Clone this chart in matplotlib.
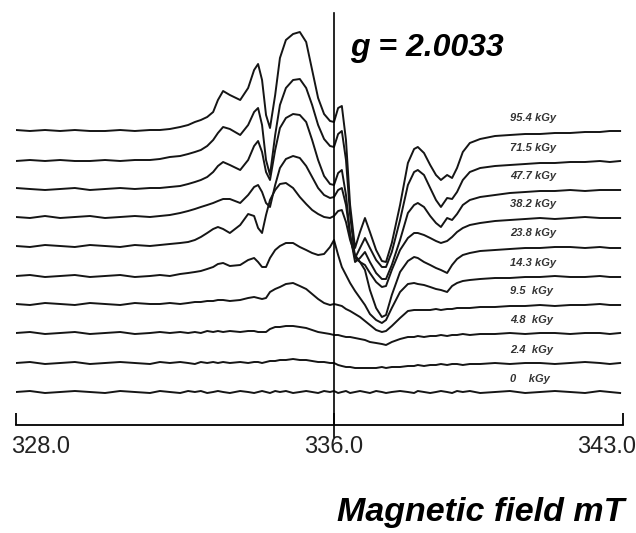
import numpy as np
import matplotlib
matplotlib.use('Agg')
import matplotlib.pyplot as plt
from matplotlib.transforms import ScaledTranslation

plt.rcParams['font.family'] = ['Liberation Sans', 'DejaVu Sans']

# magnetic field (mT), shared by all spectra
field = [328.00, 328.35, 328.73, 329.11, 329.48, 329.86, 330.24, 330.62, 330.99, 331.37,
         331.62, 331.87, 332.13, 332.33, 332.50, 332.65, 332.81, 332.96, 333.08, 333.21,
         333.38, 333.64, 333.84, 333.99, 334.09, 334.19, 334.29, 334.39, 334.52, 334.64,
         334.79, 334.97, 335.14, 335.30, 335.45, 335.60, 335.75, 335.90, 336.00, 336.10,
         336.19, 336.29, 336.39, 336.51, 336.63, 336.75, 336.87, 337.02, 337.16, 337.26,
         337.40, 337.60, 337.79, 337.94, 338.03, 338.18, 338.33, 338.47, 338.59, 338.74,
         338.86, 338.98, 339.12, 339.29, 339.54, 339.90, 340.26, 340.63, 340.99, 341.35,
         341.72, 342.08, 342.44, 342.68, 342.93]

# EPR signal (a.u.) for each dose
sig_95_4 = [1, 0, 1, 0, 1, 0, 0, 1, 0, 1,
            1, 2, 4, 6, 9, 11, 14, 19, 31, 40,
            36, 31, 43, 61, 67, 51, 16, 3, 36, 73,
            91, 97, 99, 89, 61, 33, 17, 10, 9, 23,
            25, -9, -74, -117, -101, -87, -101, -119, -130, -131,
            -112, -74, -32, -18, -16, -22, -34, -44, -49, -44,
            -47, -37, -21, -12, -8, -5, -4, -3, -3, -2,
            -2, -1, -1, 0, 0]
sig_71_5 = [0, 1, 0, 1, 0, 0, 1, 0, 1, 1,
            2, 4, 5, 7, 9, 11, 15, 21, 28, 34,
            32, 26, 36, 49, 53, 36, 1, -14, 26, 56,
            73, 81, 82, 73, 56, 36, 22, 15, 14, 27,
            30, 1, -54, -97, -87, -77, -87, -99, -106, -106,
            -91, -59, -24, -11, -9, -14, -27, -39, -46, -37,
            -38, -31, -19, -11, -7, -5, -4, -3, -2, -2,
            -1, -1, 0, -1, 0]
sig_47_7 = [1, 0, -1, 0, 1, -1, 0, 1, 0, 1,
            1, 2, 3, 5, 7, 9, 12, 17, 23, 27,
            24, 19, 29, 43, 48, 37, 17, 9, 39, 61,
            71, 75, 74, 67, 49, 29, 13, 5, 4, 16,
            19, -6, -46, -73, -69, -63, -73, -84, -90, -90,
            -76, -51, -24, -16, -14, -18, -27, -34, -38, -29,
            -31, -25, -16, -11, -8, -6, -4, -3, -2, -2,
            -1, -2, -1, -1, -1]
sig_38_2 = [0, -1, 1, -1, 0, 1, -1, 0, 1, 0,
            1, 2, 4, 6, 8, 10, 12, 14, 16, 18,
            18, 14, 22, 30, 32, 25, 14, 10, 32, 49,
            58, 61, 59, 51, 40, 29, 22, 19, 20, 27,
            29, 12, -18, -41, -45, -48, -56, -65, -70, -69,
            -53, -33, -21, -16, -16, -18, -21, -24, -26, -24,
            -20, -15, -11, -8, -6, -4, -3, -2, -1, -2,
            -1, 0, -1, -1, -1]
sig_23_8 = [0, -1, 1, 0, -1, 1, 0, -1, 1, 0,
            1, 2, 3, 4, 6, 9, 13, 17, 19, 17,
            13, 21, 32, 30, 18, 13, 31, 46, 56, 62,
            63, 58, 49, 42, 36, 32, 29, 28, 30, 35,
            36, 24, 6, -9, -16, -24, -44, -62, -71, -69,
            -49, -26, -15, -11, -12, -16, -19, -22, -24, -27,
            -19, -13, -9, -7, -5, -4, -3, -2, -2, -1,
            -1, -2, -1, -2, -2]
sig_14_3 = [0, 1, -1, 0, 1, -1, 0, 1, -1, 0,
            1, 0, 2, 3, 4, 5, 7, 9, 12, 13,
            10, 11, 16, 18, 14, 9, 9, 18, 26, 30,
            33, 33, 29, 26, 23, 21, 22, 29, 36, 21,
            9, 1, -7, -15, -22, -29, -38, -44, -47, -44,
            -32, -16, -8, -7, -8, -9, -11, -13, -14, -16,
            -10, -7, -5, -4, -3, -2, -2, -1, -1, 0,
            -1, -1, 0, -1, -1]
sig_9_5 = [0, -1, 1, 0, -1, 1, 0, -1, 1, 0,
           0, 1, 0, 1, 2, 2, 3, 3, 4, 4,
           3, 4, 6, 7, 6, 5, 6, 12, 15, 17,
           20, 21, 18, 15, 10, 5, 1, -1, 0, -1,
           -2, -5, -7, -10, -13, -17, -21, -26, -28, -27,
           -22, -14, -7, -6, -6, -6, -6, -5, -6, -5,
           -5, -4, -4, -4, -3, -3, -2, -2, -1, -2,
           -1, -1, 0, -1, -1]
sig_4_8 = [0, 1, -1, 0, 1, -1, 0, 1, -1, 0,
           1, 0, 1, 0, 1, 0, 2, 1, 2, 1,
           2, 1, 2, 2, 1, 1, 1, 4, 6, 6,
           7, 7, 6, 5, 3, 1, 0, -1, -2, -2,
           -3, -4, -4, -5, -6, -7, -9, -10, -11, -12,
           -9, -6, -4, -4, -3, -4, -3, -3, -2, -3,
           -2, -2, -1, -2, -1, -1, 0, -1, 0, 0,
           -1, 0, 0, -1, 0]
sig_2_4 = [0, 1, -1, 0, 1, -1, 0, 1, 0, -1,
           1, 0, 1, 0, -1, 1, 0, 1, 0, 1,
           0, 1, 0, 1, 1, 0, 1, 2, 2, 3,
           3, 4, 3, 3, 2, 1, 1, 0, 0, -2,
           -3, -4, -4, -5, -5, -5, -5, -5, -4, -5,
           -4, -4, -3, -3, -2, -3, -2, -2, -1, -2,
           -1, -1, -2, -1, -1, 0, -1, 0, 0, -1,
           0, 1, 0, -1, 0]
sig_0 = [0, 1, -1, 0, 1, 0, -1, 1, 0, -1,
         1, 0, -1, 1, 0, 1, -1, 0, 1, 0,
         -1, 1, 0, -1, 0, 1, 0, -1, 1, 0,
         1, -1, 0, 1, 0, -1, 1, 0, 1, -1,
         0, 1, -1, 0, 1, 0, -1, 1, 0, -1,
         0, 1, 0, -1, 1, 0, -1, 0, 1, 0,
         -1, 1, 0, 1, -1, 0, 1, -1, 0, 1,
         0, -1, 1, 0, -1]

doses = ['95.4 kGy', '71.5 kGy', '47.7 kGy', '38.2 kGy', '23.8 kGy',
         '14.3 kGy', '9.5  kGy', '4.8  kGy', '2.4  kGy', '0    kGy']
spectra = [sig_95_4, sig_71_5, sig_47_7, sig_38_2, sig_23_8,
           sig_14_3, sig_9_5, sig_4_8, sig_2_4, sig_0]
stack = [294, 264, 236, 208, 179, 149, 121, 92, 62, 33]


# the field axis in the figure is not quite linear between its labels
def fwd(x):
    return np.interp(x, [328, 336, 343], [0, 318, 607])


def inv(p):
    return np.interp(p, [0, 318, 607], [328, 336, 343])


fig = plt.figure(figsize=(6.36, 5.33), dpi=100)
ax = fig.add_axes([16/636, 108/533, 607/636, 425/533])
ax.set_xscale('function', functions=(fwd, inv))

for sig, off, lab in zip(spectra, stack, doses):
    ax.plot(field, np.array(sig) + off, color='#151515', lw=1.4,
            solid_joinstyle='round')
    ax.text(340.26, off + 13, lab, fontsize=8, style='italic', weight='bold',
            color='#333333', ha='left', va='center')

# g-value marker
ax.axvline(336, ymin=-12/425, ymax=412/425, clip_on=False, color='black', lw=1.2)

ax.set_xlim(328, 343)
ax.set_ylim(0, 425)
for s in ['top', 'left', 'right']:
    ax.spines[s].set_visible(False)
ax.spines['bottom'].set_linewidth(1.3)
ax.set_yticks([])
ax.set_xticks([328, 336, 343], ['328.0', '336.0', '343.0'])
ax.tick_params(axis='x', direction='in', length=8.6, width=1.3, pad=8,
               labelsize=17, labelcolor='#222222')
tl = ax.get_xticklabels()
tl[0].set_transform(tl[0].get_transform() + ScaledTranslation(25/100, 0, fig.dpi_scale_trans))
tl[2].set_transform(tl[2].get_transform() + ScaledTranslation(-16/100, 0, fig.dpi_scale_trans))

fig.text(350/636, 1 - 48/533, 'g = 2.0033', fontsize=23, style='italic',
         weight='bold', ha='left', va='center')
fig.text(624/636, 1 - 513/533, 'Magnetic field mT', fontsize=24.5, style='italic',
         weight='bold', ha='right', va='center')

fig.savefig('out.png', dpi=100)
